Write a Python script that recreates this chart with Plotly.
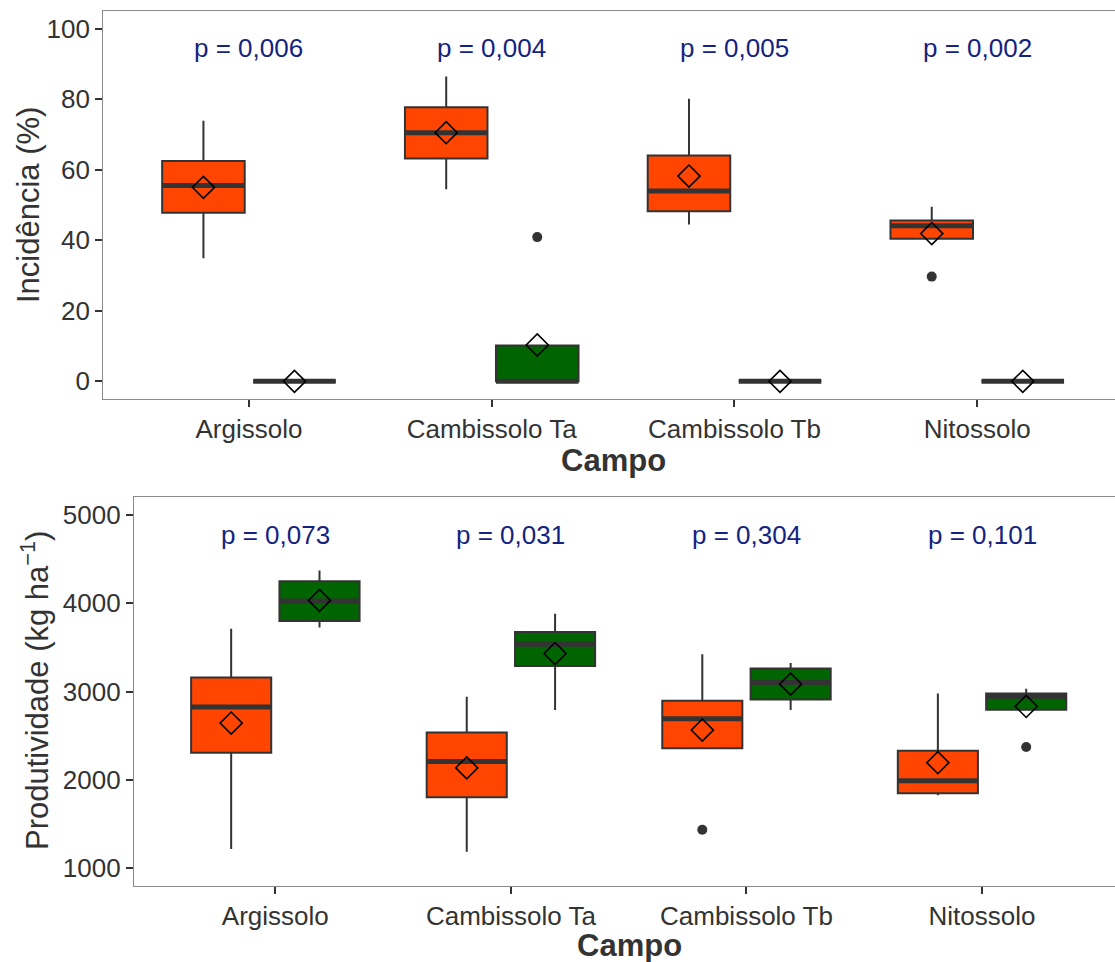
import plotly.graph_objects as go

# ---------------- data ----------------
categories = ["Argissolo", "Cambissolo Ta", "Cambissolo Tb", "Nitossolo"]

# Incidência (%) – orange group
inc_or_low = [34.9, 54.5, 44.5, 40.4]
inc_or_q1 = [47.8, 63.2, 48.2, 40.4]
inc_or_med = [55.5, 70.5, 54.0, 44.1]
inc_or_q3 = [62.5, 77.7, 64.0, 45.6]
inc_or_high = [73.9, 86.4, 80.1, 49.5]
inc_or_mean = [55.0, 70.5, 58.2, 41.9]
inc_or_out = [[], [], [], [29.7]]
# Incidência (%) – green group
inc_gr_low = [0, 0, 0, 0]
inc_gr_q1 = [0, 0, 0, 0]
inc_gr_med = [0, 0, 0, 0]
inc_gr_q3 = [0, 10.2, 0, 0]
inc_gr_high = [0, 10.2, 0, 0]
inc_gr_mean = [0, 10.3, 0, 0]
inc_gr_out = [[], [40.9], [], []]
inc_p = ["p = 0,006", "p = 0,004", "p = 0,005", "p = 0,002"]

# Produtividade (kg/ha) – orange group
prod_or_low = [1219, 1188, 2359, 1828]
prod_or_q1 = [2309, 1806, 2359, 1851]
prod_or_med = [2825, 2208, 2693, 1990]
prod_or_q3 = [3160, 2539, 2896, 2332]
prod_or_high = [3713, 2941, 3423, 2980]
prod_or_mean = [2644, 2137, 2565, 2196]
prod_or_out = [[], [], [1437], []]
# Produtividade – green group
prod_gr_low = [3725, 2791, 2791, 2795]
prod_gr_q1 = [3799, 3291, 2912, 2795]
prod_gr_med = [4025, 3536, 3104, 2949]
prod_gr_q3 = [4251, 3675, 3262, 2980]
prod_gr_high = [4371, 3883, 3325, 3032]
prod_gr_mean = [4033, 3431, 3085, 2833]
prod_gr_out = [[], [], [], [2374]]
prod_p = ["p = 0,073", "p = 0,031", "p = 0,304", "p = 0,101"]

inc_ticks = [0, 20, 40, 60, 80, 100]
prod_ticks = [1000, 2000, 3000, 4000, 5000]

# ---------------- style ----------------
ORANGE = "#FF4500"
GREEN = "#006400"
DARK = "#333333"
NAVY = "#14237F"
FONT = "Liberation Sans, Arial, sans-serif"
BOX_W = 0.34
DODGE = 0.1875
W, H = 1115, 962

fig = go.Figure()


def add_group(xa, ya, offset, color, low, q1, med, q3, high, mean, outs):
    pos = [i + 1 + offset for i in range(len(categories))]
    fig.add_trace(go.Box(
        x=pos, q1=q1, median=med, q3=q3, lowerfence=low, upperfence=high,
        width=BOX_W, fillcolor=color, line=dict(color=DARK, width=2),
        whiskerwidth=0, boxpoints=False, showlegend=False, hoverinfo="skip",
        xaxis=xa, yaxis=ya))
    mx, my = [], []
    for p, m in zip(pos, med):
        mx += [p - BOX_W / 2, p + BOX_W / 2, None]
        my += [m, m, None]
    fig.add_trace(go.Scatter(x=mx, y=my, mode="lines",
                             line=dict(color=DARK, width=5),
                             showlegend=False, hoverinfo="skip",
                             xaxis=xa, yaxis=ya))
    ox, oy = [], []
    for p, o in zip(pos, outs):
        for v in o:
            ox.append(p)
            oy.append(v)
    if ox:
        fig.add_trace(go.Scatter(x=ox, y=oy, mode="markers",
                                 marker=dict(color=DARK, size=10),
                                 showlegend=False, hoverinfo="skip",
                                 xaxis=xa, yaxis=ya))
    fig.add_trace(go.Scatter(x=pos, y=mean, mode="markers",
                             marker=dict(symbol="diamond-open", size=17,
                                         color="black", line=dict(width=1.6)),
                             showlegend=False, hoverinfo="skip",
                             xaxis=xa, yaxis=ya))


add_group("x", "y", -DODGE, ORANGE, inc_or_low, inc_or_q1, inc_or_med,
          inc_or_q3, inc_or_high, inc_or_mean, inc_or_out)
add_group("x", "y", DODGE, GREEN, inc_gr_low, inc_gr_q1, inc_gr_med,
          inc_gr_q3, inc_gr_high, inc_gr_mean, inc_gr_out)
add_group("x2", "y2", -DODGE, ORANGE, prod_or_low, prod_or_q1, prod_or_med,
          prod_or_q3, prod_or_high, prod_or_mean, prod_or_out)
add_group("x2", "y2", DODGE, GREEN, prod_gr_low, prod_gr_q1, prod_gr_med,
          prod_gr_q3, prod_gr_high, prod_gr_mean, prod_gr_out)

annotations = []
for i, t in enumerate(inc_p):
    annotations.append(dict(x=i + 1, y=94.5, xref="x", yref="y", text=t,
                            showarrow=False,
                            font=dict(size=26, color=NAVY, family=FONT)))
for i, t in enumerate(prod_p):
    annotations.append(dict(x=i + 1, y=4775, xref="x2", yref="y2", text=t,
                            showarrow=False,
                            font=dict(size=26, color=NAVY, family=FONT)))


def ann_title(text, px, py, angle=0, bold=False):
    return dict(x=px / W, y=1 - py / H, xref="paper", yref="paper",
                text=f"<b>{text}</b>" if bold else text, showarrow=False,
                textangle=angle, xanchor="center", yanchor="middle",
                font=dict(size=31, color=DARK, family=FONT))


annotations += [
    ann_title("Incidência (%)", 29, 205, -90),
    ann_title("Campo", 613, 460, bold=True),
    ann_title("Produtividade (kg ha<sup>−1</sup>)", 35, 691, -90),
    ann_title("Campo", 629, 945, bold=True),
]

common_x = dict(tickvals=[1, 2, 3, 4], ticktext=categories, showline=True,
                linecolor="#8a8a8a", linewidth=1.4, mirror=True,
                ticks="outside", ticklen=7, tickwidth=1.5, tickcolor=DARK,
                tickfont=dict(size=26, color=DARK, family=FONT),
                showgrid=False, zeroline=False)
common_y = dict(showline=True, linecolor="#8a8a8a", linewidth=1.4,
                mirror=False, ticks="outside", ticklen=7, tickwidth=1.5,
                tickcolor=DARK, tickfont=dict(size=26, color=DARK, family=FONT),
                showgrid=False, zeroline=False)

l1, l2 = 103.3, 134.0
u1 = (977 - 248.7) / 3
u2 = (981.7 - 275) / 3

fig.update_layout(
    width=W, height=H, autosize=False,
    margin=dict(l=0, r=0, t=0, b=0),
    paper_bgcolor="white", plot_bgcolor="white",
    font=dict(family=FONT),
    xaxis=dict(domain=[l1 / W, 1], range=[0.4, 0.4 + (W - l1) / u1],
               anchor="y", **common_x),
    yaxis=dict(domain=[(H - 399) / H, (H - 11) / H], range=[-5, 105],
               tickvals=inc_ticks, anchor="x", **common_y),
    xaxis2=dict(domain=[l2 / W, 1], range=[0.4, 0.4 + (W - l2) / u2],
                anchor="y2", **common_x),
    yaxis2=dict(domain=[(H - 886) / H, (H - 497.3) / H], range=[800, 5200],
                tickvals=prod_ticks, anchor="x2", **common_y),
    annotations=annotations,
)

fig.write_html("out.html")
